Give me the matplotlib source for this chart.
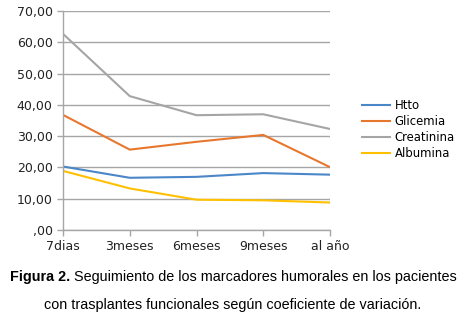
import matplotlib
matplotlib.use("Agg")
import matplotlib.pyplot as plt

categories = ["7dias", "3meses", "6meses", "9meses", "al año"]
htto = [20.3, 16.7, 17.0, 18.2, 17.7]
glicemia = [36.8, 25.7, 28.2, 30.4, 20.1]
creatinina = [62.7, 42.8, 36.7, 37.0, 32.3]
albumina = [18.9, 13.3, 9.7, 9.5, 8.8]
yticks = [0, 10, 20, 30, 40, 50, 60, 70]
ytick_labels = [",00", "10,00", "20,00", "30,00", "40,00", "50,00", "60,00", "70,00"]

series = [
    ("Htto", htto, "#4a86c8"),
    ("Glicemia", glicemia, "#e8772e"),
    ("Creatinina", creatinina, "#a5a5a5"),
    ("Albumina", albumina, "#ffc000"),
]

fig = plt.figure(figsize=(4.65, 3.24), dpi=100)
ax = fig.add_axes([0.1355, 0.290, 0.5742, 0.676])

x = list(range(len(categories)))
for name, vals, col in series:
    ax.plot(x, vals, color=col, lw=1.5, label=name, solid_joinstyle="round")

ax.set_xlim(0, len(categories) - 1)
ax.set_ylim(0, 70)
ax.set_yticks(yticks)
ax.set_yticklabels(ytick_labels)
ax.set_xticks(x)
ax.set_xticklabels(categories)
ax.yaxis.grid(True, color="#a6a6a6", lw=1.0)
ax.set_axisbelow(True)
for s in ["top", "right"]:
    ax.spines[s].set_visible(False)
for s in ["left", "bottom"]:
    ax.spines[s].set_color("#a6a6a6")
    ax.spines[s].set_linewidth(1.0)
ax.tick_params(axis="both", colors="#a6a6a6", length=4, width=1.0,
               labelcolor="#222222", labelsize=9)
ax.tick_params(axis="x", pad=3)

leg = fig.legend(loc="upper left", bbox_to_anchor=(0.767, 0.712), frameon=False,
                 fontsize=8.4, handlelength=2.4, handletextpad=0.35,
                 labelspacing=0.25, borderpad=0)

cap_fs = 10.4
t1 = fig.text(0.021, 0.145, "Figura 2.", fontsize=cap_fs, fontweight="bold",
              family="Liberation Sans", ha="left", va="center")
fig.canvas.draw()
bb = t1.get_window_extent()
fig.text((bb.x1 + 4) / fig.bbox.width, 0.145,
         "Seguimiento de los marcadores humorales en los pacientes",
         fontsize=cap_fs, family="Liberation Sans", ha="left", va="center")
fig.text(0.5, 0.058, "con trasplantes funcionales según coeficiente de variación.",
         fontsize=cap_fs, family="Liberation Sans", ha="center", va="center")

fig.savefig("out.png", dpi=100)
